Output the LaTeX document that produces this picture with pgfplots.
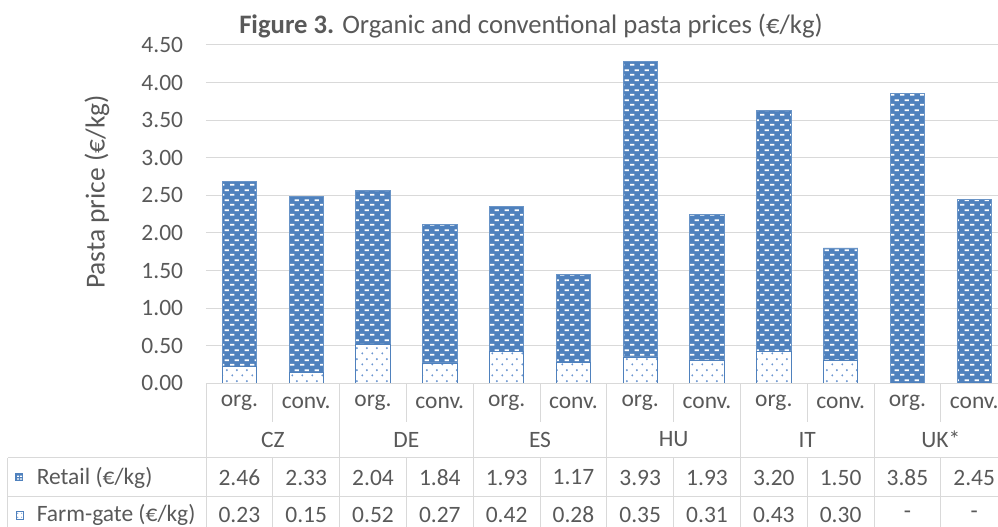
\documentclass[border=0pt]{standalone}
\usepackage{pgfplots}
\pgfplotsset{compat=1.18}
\usepackage{fontspec}
\setmainfont{Carlito}
\usetikzlibrary{patterns}
\definecolor{barblue}{HTML}{4F81BD}
\definecolor{dotblue}{HTML}{6A95D0}
\definecolor{txt}{HTML}{595959}
\definecolor{gridc}{HTML}{D9D9D9}

\pgfdeclarepatternformonly{retaildash}{\pgfqpoint{0pt}{0pt}}{\pgfqpoint{7.5pt}{7.5pt}}{\pgfqpoint{7.5pt}{7.5pt}}{%
  \pgfpathrectangle{\pgfqpoint{0.1pt}{1.1pt}}{\pgfqpoint{3.5pt}{1.5pt}}%
  \pgfpathrectangle{\pgfqpoint{3.85pt}{4.85pt}}{\pgfqpoint{3.5pt}{1.5pt}}%
  \pgfusepath{fill}}
\pgfdeclarepatternformonly{farmdots}{\pgfqpoint{0pt}{0pt}}{\pgfqpoint{7.5pt}{8pt}}{\pgfqpoint{7.5pt}{8pt}}{%
  \pgfpathcircle{\pgfqpoint{1.9pt}{2pt}}{0.85pt}%
  \pgfpathcircle{\pgfqpoint{5.65pt}{6pt}}{0.85pt}%
  \pgfusepath{fill}}

\pgfplotstableread{
x farm retail
0 0.23 2.46
1 0.15 2.33
2 0.52 2.04
3 0.27 1.84
4 0.42 1.93
5 0.28 1.17
6 0.35 3.93
7 0.31 1.93
8 0.43 3.20
9 0.30 1.50
10 0 3.85
11 0 2.45
}\pricedata

\begin{document}
\begin{tikzpicture}
\begin{axis}[
  at={(0,0)}, anchor=south west,
  scale only axis, width=601.2pt, height=253.8pt,
  xmin=-0.5, xmax=11.5, ymin=0, ymax=4.5,
  ybar stacked, bar width=25.8pt,
  xtick=\empty,
  ytick={0,0.5,1,1.5,2,2.5,3,3.5,4,4.5},
  /pgf/number format/fixed, /pgf/number format/fixed zerofill, /pgf/number format/precision=2, /pgf/number format/assume math mode=true,
  yticklabel style={text=txt, font=\fontsize{17.6}{20}\selectfont, inner xsep=0pt},
  yticklabel shift=17pt,
  ymajorgrids, grid style={gridc, line width=0.75pt},
  axis line style={draw=none}, major tick length=0pt, tick style={draw=none},
  clip=false,
]
\addplot[fill=white, draw=barblue, line width=0.6pt, postaction={pattern=farmdots, pattern color=dotblue}] table[x=x, y=farm] {\pricedata};
\addplot[fill=barblue, draw=barblue!85!white, line width=0.6pt, postaction={pattern=retaildash, pattern color=white}] table[x=x, y=retail] {\pricedata};
\end{axis}
\begin{scope}[shift={(-154.5pt,287.475pt)}, x=0.75pt, y=-0.75pt]
  % table lines
  \begin{scope}[gridc, line width=0.75pt]
    \draw (206,383.3) -- (1008,383.3);
    \draw (8,458) -- (1008,458);
    \draw (8,496.5) -- (1008,496.5);
    \draw (8,535) -- (1008,535);
    \draw (8,458) -- (8,535);
    \foreach \k in {0,...,6} { \draw ({206+133.6*\k},383.3) -- ({206+133.6*\k},535); }
    \foreach \k in {0,...,5} {
      \draw ({206+66.8*(2*\k+1)},383.3) -- ({206+66.8*(2*\k+1)},422);
      \draw ({206+66.8*(2*\k+1)},458) -- ({206+66.8*(2*\k+1)},535);
    }
  \end{scope}
  \begin{scope}[every node/.style={text=txt, font=\fontsize{17.6}{20}\selectfont, inner sep=0pt}]
    \foreach \k in {0,...,5} {
      \node at ({206+66.8*(2*\k+0.5)},403) {org.};
      \node at ({206+66.8*(2*\k+1.5)},403) {conv.};
    }
    \foreach \c [count=\k from 0] in {CZ,DE,ES,HU,IT,UK*} {
      \node at ({206+133.6*(\k+0.5)},439.5) {\c};
    }
    \foreach \v [count=\i from 0] in {2.46,2.33,2.04,1.84,1.93,1.17,3.93,1.93,3.20,1.50,3.85,2.45} {
      \node at ({206+66.8*(\i+0.5)},477.5) {\v};
    }
    \foreach \v [count=\i from 0] in {0.23,0.15,0.52,0.27,0.42,0.28,0.35,0.31,0.43,0.30,-,-} {
      \node at ({206+66.8*(\i+0.5)},514.5) {\v};
    }
    \node[anchor=west] at (36.5,477.5) {Retail (€/kg)};
    \node[anchor=west] at (36.5,514.5) {Farm-gate (€/kg)};
    \node[anchor=base, font=\fontsize{20}{24}\selectfont] at (531,34) {\textbf{Figure 3.} Organic and conventional pasta prices (€/kg)};
    \node[rotate=90, font=\fontsize{20.6}{24}\selectfont] at (97,192) {Pasta price (€/kg)};
  \end{scope}
  % legend keys
  \fill[barblue] (15.5,473.5) rectangle (23.5,481.5);
  \fill[white] (17.2,475.6) rectangle (19.2,476.8) (20.2,475.6) rectangle (22.2,476.8) (17.2,478.4) rectangle (19.2,479.6) (20.2,478.4) rectangle (22.2,479.6);
  \draw[barblue, line width=0.6pt] (16,511.5) rectangle (23.5,519);
  \fill[dotblue] (17.8,513.3) circle (0.6) (21.7,513.3) circle (0.6) (17.8,517.2) circle (0.6) (21.7,517.2) circle (0.6);
  \pgfresetboundingbox
  \useasboundingbox (0,0) rectangle (998,527);
\end{scope}
\end{tikzpicture}
\end{document}
